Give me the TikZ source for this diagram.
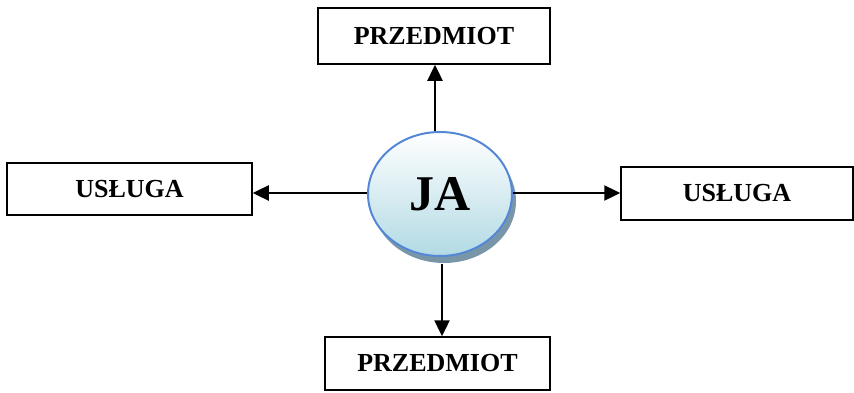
\documentclass[tikz,border=0pt]{standalone}
\usepackage{fontspec}
\setmainfont{Liberation Serif}
\usetikzlibrary{arrows.meta,shadows,shapes.geometric}
\definecolor{jaborder}{RGB}{84,136,214}
\definecolor{jabottom}{RGB}{178,218,228}
\definecolor{jashadow}{RGB}{120,150,168}
\begin{document}
\begin{tikzpicture}[x=1pt,y=1pt,
  box/.style={draw,line width=1.5pt,minimum height=53pt,inner sep=0pt,
    font=\fontsize{26}{30}\selectfont\bfseries},
  arr/.style={line width=2.4pt,-{Triangle[length=16pt,width=15pt]}}]
\useasboundingbox (0,0) rectangle (854,392);
\node[box,minimum width=232pt,minimum height=56pt] (top) at (434,356) {PRZEDMIOT};
\node[box,minimum width=245pt,minimum height=52pt] (left) at (129.5,203) {USŁUGA};
\node[box,minimum width=232pt] (right) at (737,198.5) {USŁUGA};
\node[box,minimum width=225pt] (bottom) at (437.5,28.5) {PRZEDMIOT};
\node[ellipse,draw=jaborder,line width=2pt,minimum width=144pt,minimum height=124pt,
  top color=white,bottom color=jabottom,
  drop shadow={shadow xshift=4pt,shadow yshift=-7pt,fill=jashadow,opacity=1},
  font=\fontsize{50}{54}\selectfont\bfseries] (ja) at (440,198) {JA};
\coordinate (ty) at (435,0);
\coordinate (by) at (442,0);
\coordinate (hy) at (0,199);
\draw[arr] (ja.north -| ty) -- (top.south -| ty);
\draw[arr] ([yshift=-7pt]ja.south -| by) -- (bottom.north -| by);
\draw[arr] (ja.west |- hy) -- (left.east |- hy);
\draw[arr] (ja.east |- hy) -- (right.west |- hy);
\end{tikzpicture}
\end{document}
